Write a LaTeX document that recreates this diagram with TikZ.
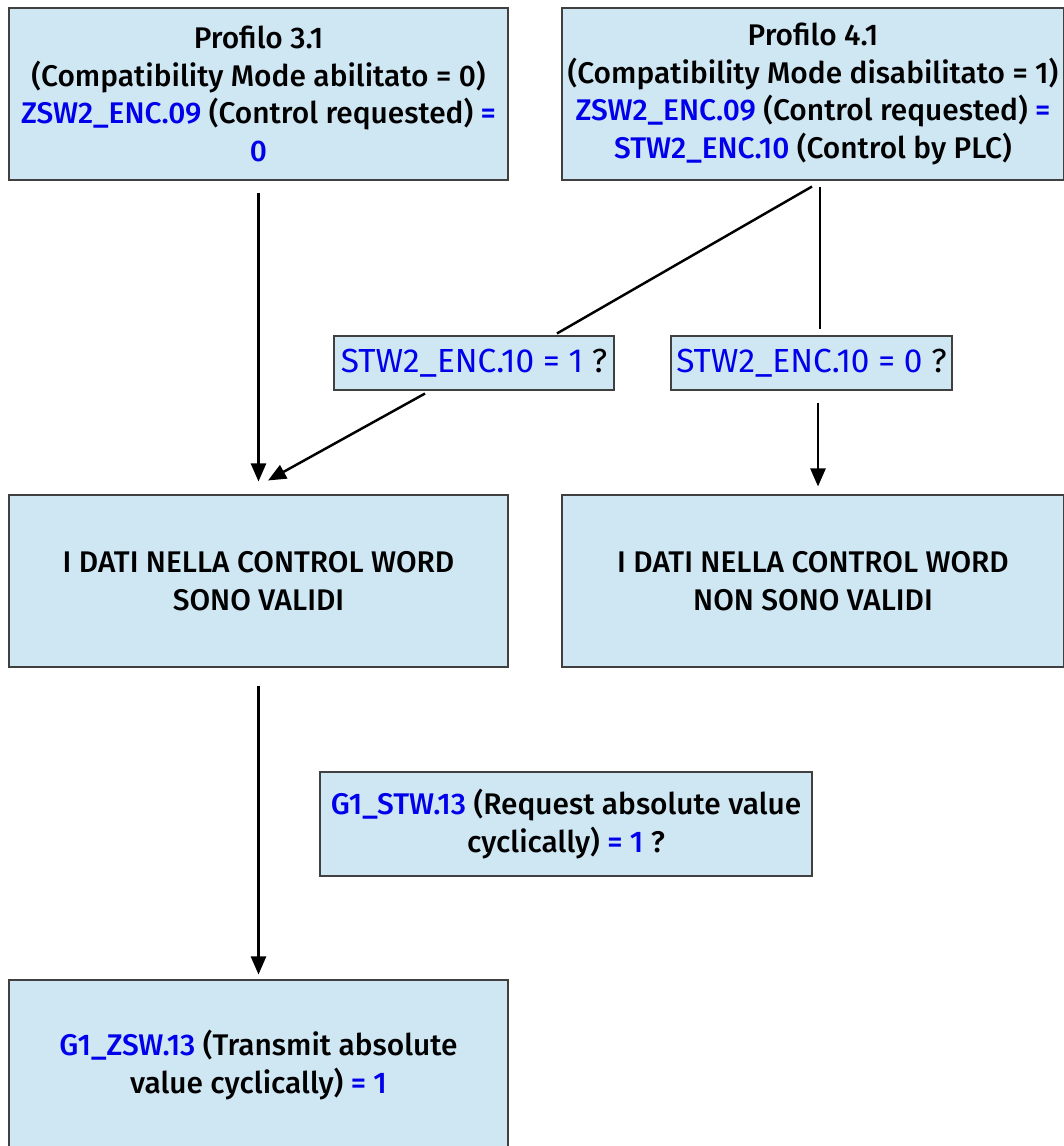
\documentclass[tikz,border=0pt]{standalone}
\usepackage{fontspec}
\setmainfont{Fira Sans}[UprightFont=* Medium, BoldFont=* SemiBold]
\usepackage{xcolor}
\usetikzlibrary{arrows.meta}

\definecolor{boxfill}{RGB}{207,230,243}
\definecolor{boxline}{RGB}{64,64,64}
\definecolor{sigblue}{RGB}{0,0,235}
\newcommand{\sig}[1]{\textcolor{sigblue}{#1}}

\begin{document}
\begin{tikzpicture}[>={Triangle[length=0.36cm,width=0.3cm]}, line width=1.4pt]
    \tikzstyle{block} = [rectangle, draw=boxline, line width=0.6pt, fill=boxfill, align=center, inner sep=0pt, font=\fontsize{17}{21.5}\selectfont]
    \tikzstyle{query} = [block, minimum width=5.6cm, minimum height=1.08cm, font=\fontspec{Fira Sans}\fontsize{19}{22}\selectfont]
    \useasboundingbox (0,0) rectangle (21.28,-22.92);

    \node[block, minimum width=9.98cm, minimum height=3.44cm] (prof3) at (5.17,-1.88)
        {Profilo 3.1\\(Compatibility Mode abilitato = 0)\\\sig{ZSW2\_ENC.09} (Control requested) \sig{=}\\\sig{0}};
    \node[block, minimum width=10.04cm, minimum height=3.44cm] (prof4) at (16.26,-1.88)
        {Profilo 4.1\\(Compatibility Mode disabilitato = 1)\\\sig{ZSW2\_ENC.09} (Control requested) \sig{=}\\\sig{STW2\_ENC.10} (Control by PLC)};

    \node[query] (plc1) at (9.48,-7.26) {\sig{STW2\_ENC.10 = 1} ?};
    \node[query, minimum width=5.62cm] (plc0) at (16.23,-7.26) {\sig{STW2\_ENC.10 = 0} ?};

    \node[block, minimum width=9.98cm, minimum height=3.44cm] (valid) at (5.17,-11.62)
        {I DATI NELLA CONTROL WORD\\SONO VALIDI};
    \node[block, minimum width=10.04cm, minimum height=3.44cm] (invalid) at (16.26,-11.62)
        {I DATI NELLA CONTROL WORD\\NON SONO VALIDI};

    \node[block, minimum width=9.84cm, minimum height=2.08cm] (request) at (11.32,-16.48)
        {\sig{G1\_STW.13} (Request absolute value\\cyclically) \sig{= 1} ?};
    \node[block, minimum width=9.98cm, minimum height=3.4cm] (transmit) at (5.17,-21.3)
        {\sig{G1\_ZSW.13} (Transmit absolute\\value cyclically) \sig{= 1}};

    \draw[->] ([yshift=-0.24cm]prof3.south) -- ([yshift=0.26cm]valid.north);
    \draw ([xshift=-0.02cm,yshift=-0.12cm]prof4.south) -- ([xshift=1.66cm,yshift=0.04cm]plc1.north);
    \draw ([xshift=0.14cm,yshift=-0.12cm]prof4.south) -- ([xshift=0.17cm,yshift=0.12cm]plc0.north);
    \draw[->] ([xshift=-0.98cm,yshift=-0.06cm]plc1.south) -- ([xshift=0.19cm,yshift=0.28cm]valid.north);
    \draw[->] ([xshift=0.13cm,yshift=-0.24cm]plc0.south) -- ([xshift=0.1cm,yshift=0.16cm]invalid.north);
    \draw[->] ([yshift=-0.36cm]valid.south) -- ([yshift=0.1cm]transmit.north);
\end{tikzpicture}
\end{document}
